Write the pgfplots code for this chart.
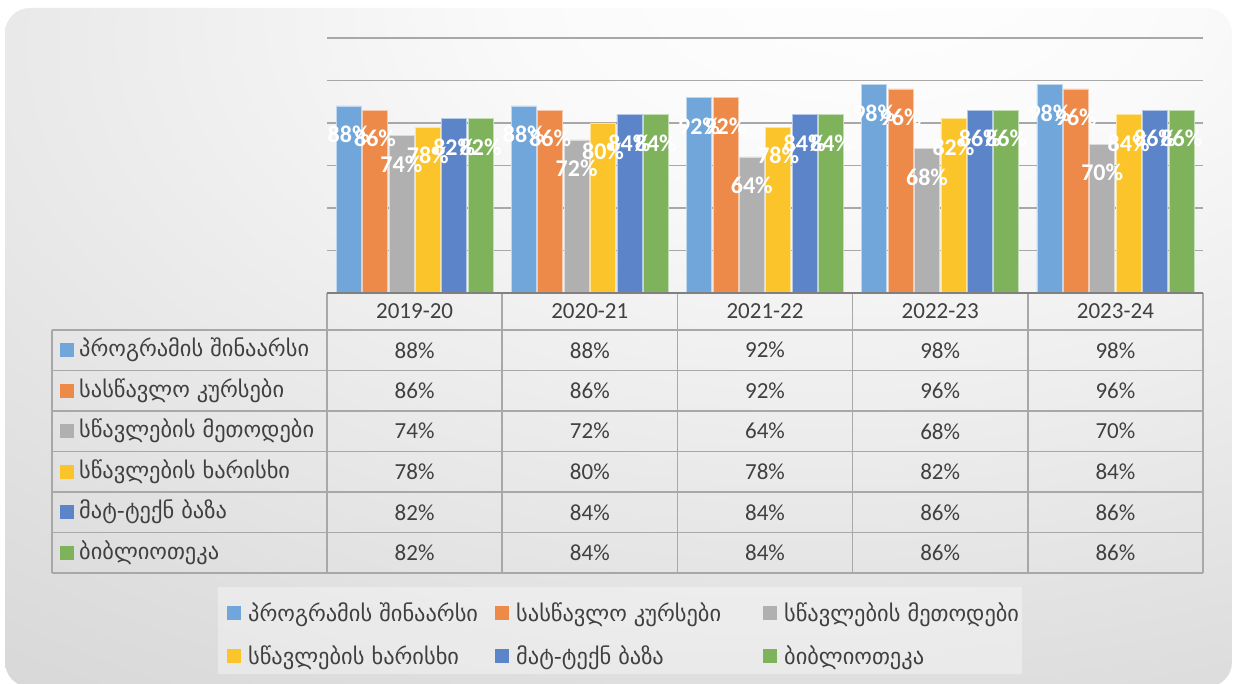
\documentclass[border=0pt]{standalone}
\usepackage{fontspec}
\setmainfont{Carlito}
\newfontfamily\geo{DejaVu Sans}
\usepackage{pgfplots}
\usepackage{pgfplotstable}
\pgfplotsset{compat=1.18}

\definecolor{cA}{HTML}{70A6DA}
\definecolor{cB}{HTML}{ED8A4A}
\definecolor{cC}{HTML}{B0B0B0}
\definecolor{cD}{HTML}{FAC42A}
\definecolor{cE}{HTML}{5B84C9}
\definecolor{cF}{HTML}{7FB35B}
\definecolor{txt}{HTML}{404040}
\definecolor{tline}{HTML}{A8A8A8}

\pgfdeclareradialshading{bgshade}{\pgfpoint{11bp}{30bp}}{%
  color(0bp)=(white); color(14bp)=(white!98!black); color(45bp)=(white!87!black);
  color(70bp)=(white!79!black); color(120bp)=(white!74!black)}

\pgfplotsset{
  sqlegend/.style={legend image code/.code={\fill[##1,draw=none] (0pt,-7pt) rectangle (14pt,7pt);}},
  barstyle/.style 2 args={ybar, bar width=25pt, bar shift=#2, fill=#1, draw=white!55!#1, line width=0.8pt, sqlegend},
  lblstyle/.style={ybar, bar width=25pt, bar shift=#1, draw=none, fill=none, forget plot,
     nodes near coords={\pgfmathprintnumber{\pgfplotspointmeta}\%},
     every node near coord/.append style={text=white, font=\bfseries\fontsize{24}{24}\selectfont, anchor=center, yshift=-28.5pt, xshift=#1}},
}

\pgfplotstableread{
x p1 p2 p3 p4 p5 p6
0 88 86 74 78 82 82
1 88 86 72 80 84 84
2 92 92 64 78 84 84
3 98 96 68 82 86 86
4 98 96 70 84 86 86
}\datatable

\begin{document}
\begin{tikzpicture}
\begin{scope}[x=1pt,y=1pt]
\fill[white] (0,0) rectangle (1233,684);
\begin{scope}
\clip (0,0) rectangle (1233,684);
\shade[shading=bgshade, rounded corners=25pt] (5,-3) rectangle (1232,676);
\end{scope}
% legend box
\fill[white, opacity=0.35] (218,10) rectangle (1022,97);
\end{scope}

\begin{axis}[
  at={(327pt,391pt)}, anchor=south west,
  width=876pt, height=255pt, scale only axis,
  xmin=-0.5, xmax=4.5, ymin=0, ymax=120,
  ytick={20,40,...,120}, yticklabels={}, xtick=\empty,
  ymajorgrids, grid style={line width=1.3pt, black!34},
  axis line style={draw=none}, major tick length=0pt,
  /pgf/number format/assume math mode=true,
  clip=false,
  legend columns=3,
  legend cell align=left,
  legend style={at={(-0.1176,-1.339)}, anchor=west, draw=none, fill=none,
     font=\geo\fontsize{22.4}{22.4}\selectfont, text=txt, row sep=18.5pt,
     /tikz/every odd column/.append style={column sep=5pt},
     /tikz/every even column/.append style={column sep=0pt}},
]
\addplot[barstyle={cA}{-66pt}] table[x=x,y=p1]{\datatable};
\addplot[barstyle={cB}{-39.6pt}] table[x=x,y=p2]{\datatable};
\addplot[barstyle={cC}{-13.2pt}] table[x=x,y=p3]{\datatable};
\addplot[barstyle={cD}{13.2pt}] table[x=x,y=p4]{\datatable};
\addplot[barstyle={cE}{39.6pt}] table[x=x,y=p5]{\datatable};
\addplot[barstyle={cF}{66pt}] table[x=x,y=p6]{\datatable};
\addplot[lblstyle=-66pt] table[x=x,y=p1]{\datatable};
\addplot[lblstyle=-39.6pt] table[x=x,y=p2]{\datatable};
\addplot[lblstyle=-13.2pt] table[x=x,y=p3]{\datatable};
\addplot[lblstyle=13.2pt] table[x=x,y=p4]{\datatable};
\addplot[lblstyle=39.6pt] table[x=x,y=p5]{\datatable};
\addplot[lblstyle=66pt] table[x=x,y=p6]{\datatable};
\legend{\makebox[245pt][l]{პროგრამის შინაარსი},\makebox[245pt][l]{სასწავლო კურსები},\makebox[245pt][l]{სწავლების მეთოდები},
        \makebox[245pt][l]{სწავლების ხარისხი},\makebox[245pt][l]{მატ-ტექნ ბაზა},\makebox[245pt][l]{ბიბლიოთეკა}}
\end{axis}

\begin{scope}[x=1pt,y=1pt]
% data table
\begin{scope}[line width=1.5pt]
  \foreach \yy in {354,313.5,273,232.5,192,151.5,111} \draw[tline] (52,\yy) -- (1203,\yy);
  \draw[tline] (52,354) -- (52,111);
  \foreach \xx in {327,502.2,677.4,852.6,1027.8,1203} \draw[tline] (\xx,391) -- (\xx,111);
  \draw[black!50, line width=2.2pt] (327,391) -- (1203,391);
\end{scope}
\foreach \lab [count=\i from 0] in {2019-20,2020-21,2021-22,2022-23,2023-24}
  \node[text=txt, font=\fontsize{23}{23}\selectfont] at (414.6+175.2*\i,372.5) {\lab};
\foreach \col/\nm [count=\r from 0] in {cA/პროგრამის შინაარსი,cB/სასწავლო კურსები,cC/სწავლების მეთოდები,cD/სწავლების ხარისხი,cE/მატ-ტექნ ბაზა,cF/ბიბლიოთეკა} {
  \fill[\col] (60,333.75-40.5*\r-7) rectangle (74,333.75-40.5*\r+7);
  \node[anchor=west, text=txt, font=\geo\fontsize{22.4}{22.4}\selectfont, inner sep=0pt] at (79,333.75-40.5*\r) {\nm};
}
\foreach \vals [count=\r from 0] in {{88,88,92,98,98},{86,86,92,96,96},{74,72,64,68,70},{78,80,78,82,84},{82,84,84,86,86},{82,84,84,86,86}} {
  \foreach \v [count=\c from 0] in \vals
    \node[text=txt, font=\fontsize{23}{23}\selectfont] at (414.6+175.2*\c,333.75-40.5*\r) {\v\%};
}
\end{scope}
\end{tikzpicture}
\end{document}
